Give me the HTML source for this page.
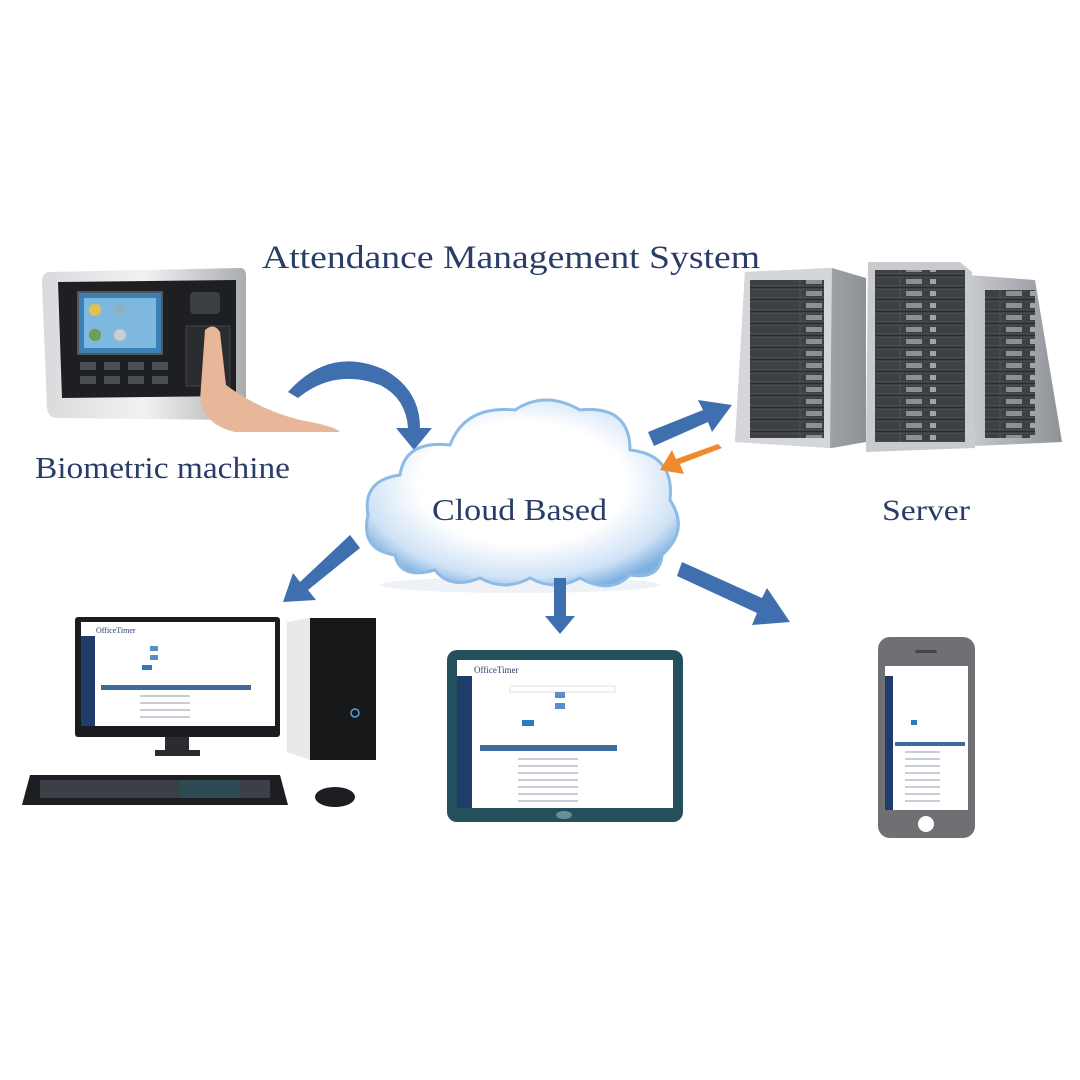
<!DOCTYPE html>
<html><head><meta charset="utf-8"><style>
html,body{margin:0;padding:0;background:#fff;width:1080px;height:1080px;overflow:hidden}
svg{display:block}
text{font-family:"Liberation Serif",serif;fill:#2a3d68}
</style></head><body>
<svg width="1080" height="1080" viewBox="0 0 1080 1080" xmlns="http://www.w3.org/2000/svg">
<defs>
<pattern id="rack" width="100" height="12" patternUnits="userSpaceOnUse">
<rect width="100" height="12" fill="#2a2c30"/>
<rect x="0" y="1" width="100" height="9" fill="#3d4045" stroke="#5a5e63" stroke-width="0.8"/>
<rect x="6" y="3" width="16" height="5" fill="#8a9096"/>
<rect x="30" y="3" width="6" height="5" fill="#9fa5a8"/>
</pattern>
<linearGradient id="side" x1="0" x2="1"><stop offset="0" stop-color="#c9cbce"/><stop offset="1" stop-color="#8e9297"/></linearGradient>
<linearGradient id="frame" x1="0" x2="1"><stop offset="0" stop-color="#d9dadc"/><stop offset="0.5" stop-color="#f2f2f2"/><stop offset="1" stop-color="#a9acb0"/></linearGradient>
<radialGradient id="cloud" cx="0.5" cy="0.45" r="0.6"><stop offset="0.55" stop-color="#ffffff"/><stop offset="0.85" stop-color="#cfe2f6"/><stop offset="1" stop-color="#7fb0e0"/></radialGradient>
<pattern id="rows" width="10" height="7" patternUnits="userSpaceOnUse"><rect width="10" height="7" fill="#fff"/><rect y="2" width="10" height="2" fill="#c9ced6"/></pattern>
</defs>

<text x="262" y="268" font-size="33" textLength="498" lengthAdjust="spacingAndGlyphs">Attendance Management System</text>

<!-- Biometric device -->
<path d="M50 272 L240 268 Q246 268 246 276 L246 410 Q246 420 236 420 L58 418 Q48 418 47 408 L42 282 Q42 272 50 272Z" fill="url(#frame)"/>
<path d="M58 282 L236 280 L236 396 L62 398Z" fill="#1d1f22"/>
<rect x="78" y="292" width="84" height="62" fill="#3a7fb6" stroke="#555" stroke-width="2"/>
<rect x="84" y="298" width="72" height="50" fill="#7fb8de"/>
<circle cx="95" cy="310" r="6" fill="#e4c14b"/><circle cx="120" cy="310" r="6" fill="#8fb0c4"/><circle cx="95" cy="335" r="6" fill="#6aa04f"/><circle cx="120" cy="335" r="6" fill="#ccc"/>
<g fill="#4a4d52">
<rect x="80" y="362" width="16" height="8"/><rect x="104" y="362" width="16" height="8"/><rect x="128" y="362" width="16" height="8"/><rect x="152" y="362" width="16" height="8"/>
<rect x="80" y="376" width="16" height="8"/><rect x="104" y="376" width="16" height="8"/><rect x="128" y="376" width="16" height="8"/><rect x="152" y="376" width="16" height="8"/>
</g>
<rect x="190" y="292" width="30" height="22" rx="4" fill="#3b3e43"/>
<rect x="186" y="326" width="44" height="60" fill="#2a2c30" stroke="#444"/>
<path d="M205 330 Q214 322 220 332 L226 385 Q260 410 300 420 Q335 426 340 432 L235 432 Q205 425 200 400Z" fill="#e8b79a"/>

<text x="35" y="478" font-size="31" textLength="255" lengthAdjust="spacingAndGlyphs">Biometric machine</text>

<path d="M288 392 Q330 345 385 370 Q420 390 420 428 L432 428 L414 450 L396 428 L408 428 Q406 398 380 385 Q335 368 298 398Z" fill="#3f6fae"/>

<!-- Cloud -->
<ellipse cx="520" cy="585" rx="140" ry="8" fill="#eef2f6"/>
<path d="M395 555 Q360 550 368 515 Q362 480 400 475 Q405 440 450 445 Q465 405 515 410 Q545 390 580 410 Q630 405 630 450 Q675 455 670 500 Q690 530 662 555 Q660 580 630 575 Q610 595 580 578 Q555 592 530 578 Q505 592 480 578 Q450 590 435 570 Q400 580 395 555Z" fill="url(#cloud)" stroke="#8cbbe6" stroke-width="3"/>
<text x="432" y="520" font-size="31" textLength="175" lengthAdjust="spacingAndGlyphs">Cloud Based</text>

<!-- Servers -->
<path d="M968 275 L1035 280 L1062 442 L975 446Z" fill="url(#side)"/>
<rect x="985" y="290" width="50" height="148" fill="url(#rack)"/>
<path d="M745 272 L832 268 L866 278 L866 442 L832 448 L735 442Z" fill="url(#side)"/>
<path d="M745 272 L832 268 L830 448 L735 442Z" fill="#d4d6d9"/>
<rect x="750" y="280" width="74" height="158" fill="url(#rack)"/>
<path d="M868 262 L960 262 L972 272 L975 448 L866 452Z" fill="#c8cacd"/>
<rect x="875" y="270" width="90" height="172" fill="url(#rack)"/>
<text x="882" y="520" font-size="30" textLength="88" lengthAdjust="spacingAndGlyphs">Server</text>

<path d="M648 432 L703 410 L698 400 L732 405 L712 432 L708 422 L654 446Z" fill="#3f6fae"/>
<path d="M722 448 L680 464 L684 474 L660 470 L672 450 L676 459 L718 444Z" fill="#f08a2e"/>
<path d="M350 535 L360 548 L308 590 L316 600 L283 602 L293 573 L300 582Z" fill="#3f6fae"/>
<path d="M554 578 L566 578 L566 616 L575 616 L560 634 L545 616 L554 616Z" fill="#3f6fae"/>
<path d="M682 562 L762 598 L767 588 L790 622 L752 625 L757 613 L677 576Z" fill="#3f6fae"/>

<!-- Desktop -->
<rect x="75" y="617" width="205" height="120" rx="3" fill="#1a1c1f"/>
<rect x="81" y="622" width="194" height="104" fill="#fff"/>
<rect x="81" y="636" width="14" height="90" fill="#1f3d6b"/>
<text x="96" y="633" font-size="8" font-family="Liberation Sans,sans-serif" fill="#2a6fb0">OfficeTimer</text>
<rect x="150" y="646" width="8" height="5" fill="#5b8ec9"/><rect x="150" y="655" width="8" height="5" fill="#5b8ec9"/>
<rect x="142" y="665" width="10" height="5" fill="#2e79c0"/>
<rect x="101" y="685" width="150" height="5" fill="#3e6b9c"/>
<rect x="140" y="691" width="50" height="32" fill="url(#rows)"/>
<rect x="165" y="737" width="24" height="14" fill="#2a2c30"/>
<rect x="155" y="750" width="45" height="6" fill="#2a2c30"/>
<path d="M287 622 L310 618 L310 760 L287 752Z" fill="#e8e9eb"/>
<rect x="310" y="618" width="66" height="142" fill="#17181a"/>
<circle cx="355" cy="713" r="4" fill="none" stroke="#5aa0e0" stroke-width="1.5"/>
<path d="M30 775 L280 775 L288 805 L22 805Z" fill="#1c1e21"/>
<rect x="40" y="780" width="230" height="18" fill="#3a4046"/>
<rect x="180" y="780" width="60" height="18" fill="#2d4a55"/>
<ellipse cx="335" cy="797" rx="20" ry="10" fill="#1c1e21"/>

<!-- Tablet -->
<rect x="447" y="650" width="236" height="172" rx="10" fill="#23505c"/>
<rect x="457" y="660" width="216" height="148" fill="#fff"/>
<rect x="457" y="676" width="15" height="132" fill="#1f3d6b"/>
<text x="474" y="673" font-size="9" font-family="Liberation Sans,sans-serif" fill="#2a6fb0">OfficeTimer</text>
<rect x="510" y="686" width="105" height="6" fill="none" stroke="#ccc" stroke-width="0.6"/>
<rect x="555" y="692" width="10" height="6" fill="#5b8ec9"/><rect x="555" y="703" width="10" height="6" fill="#5b8ec9"/>
<rect x="522" y="720" width="12" height="6" fill="#2e79c0"/>
<rect x="480" y="745" width="137" height="6" fill="#3e6b9c"/>
<rect x="518" y="753" width="60" height="50" fill="url(#rows)"/>
<ellipse cx="564" cy="815" rx="8" ry="4" fill="#6c8c98"/>

<!-- Phone -->
<rect x="878" y="637" width="97" height="201" rx="12" fill="#6e7073"/>
<rect x="885" y="666" width="83" height="144" fill="#fff"/>
<rect x="885" y="676" width="8" height="134" fill="#1f3d6b"/>
<rect x="895" y="742" width="70" height="4" fill="#3e6b9c"/>
<rect x="905" y="748" width="35" height="55" fill="url(#rows)"/>
<rect x="911" y="720" width="6" height="5" fill="#2e79c0"/>
<circle cx="926" cy="824" r="8" fill="#fff"/>
<rect x="915" y="650" width="22" height="3" rx="1.5" fill="#444"/>
</svg>
</body></html>
